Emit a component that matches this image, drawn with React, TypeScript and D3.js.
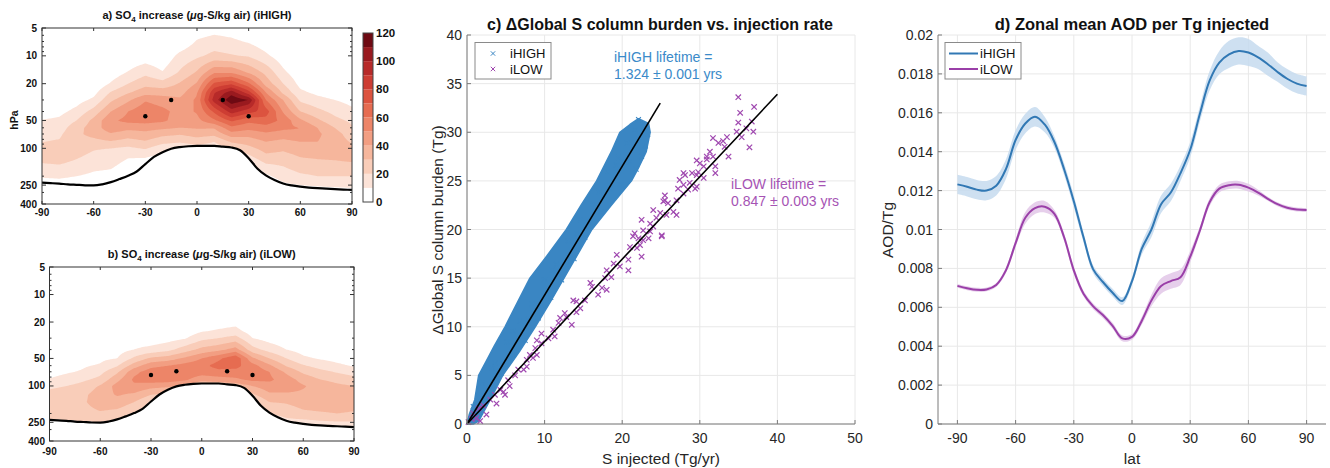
import React, { useMemo } from "react";
import * as d3 from "d3";

const FONT = "'Liberation Sans', Arial, Helvetica, sans-serif";

// ---------- Panels a / b : SO4 increase (lat x pressure) ----------
const gridLats = [-90, -80, -70, -60, -50, -40, -30, -20, -10, 0, 10, 20, 30, 40, 50, 60, 70, 80, 90];
const gridPres = [5, 7, 10, 15, 20, 25, 30, 40, 50, 60, 70, 85, 100, 125, 150, 200, 250, 300];
// one row per latitude, values at gridPres (ug-S/kg air)
const so4High = [
  [0, 0, 0, 0, 0, 1, 2, 5, 10.5, 14, 17, 19.8, 23, 24, 19, 11, 5, 2],
  [0, 0, 0, 0, 0, 1, 3, 7, 12, 15, 18, 21, 24, 25, 20, 12, 5, 2],
  [0, 0, 0, 0, 0, 3, 6, 13, 20, 26, 28, 27, 25, 21, 17, 10, 4, 2],
  [0, 0, 0, 0, 2, 7, 12, 24, 33, 35, 33, 27, 21, 17, 13, 8, 4, 2],
  [0, 0, 0, 4, 11, 21, 28, 40, 48, 46, 39, 29, 20, 15, 12, 7, 3, 1],
  [0, 0, 2, 10.5, 20, 29, 38, 50, 53, 43, 35, 26, 18, 10.5, 7, 3, 1, 0],
  [0, 0, 4, 17, 27, 36, 49, 57, 54, 44, 37, 29, 21, 10.5, 5, 2, 1, 0],
  [0, 0, 2, 10.5, 24, 36, 45, 53, 52, 42, 33, 23, 14, 6, 3, 1, 0, 0],
  [0, 2, 13, 21, 31, 36, 42, 46, 45, 40, 31, 21, 12, 4, 2, 0, 0, 0],
  [4, 11, 18, 31, 41, 49, 52, 51, 47, 41, 34, 25, 14, 5, 2, 0, 0, 0],
  [6, 14, 23, 48, 72, 89, 95, 72, 58, 41, 33, 20, 14, 5, 2, 0, 0, 0],
  [5, 12, 21, 48, 78, 106, 118, 95, 72, 57, 46, 31, 22, 8, 3, 0, 0, 0],
  [2, 9, 19, 38, 62, 85, 110, 84, 63, 53, 44, 34, 27, 17, 8, 2, 0, 0],
  [0, 4, 12, 27, 36, 50, 60, 75, 66, 56, 48, 40, 34, 27, 19, 8, 2, 0],
  [0, 0, 4, 12, 20, 28, 40, 49, 57, 52, 46, 37, 32, 26, 21, 14, 8, 4],
  [0, 0, 0, 3, 7, 12, 18, 30, 42, 50, 48, 40, 35, 30, 26, 18, 10, 5],
  [0, 0, 0, 1, 4, 8, 13, 23, 32, 40, 42, 40, 36, 31, 27, 20, 11, 5],
  [0, 0, 0, 0, 2, 5, 10, 17, 23, 30, 34, 35, 34, 32, 27, 20, 12, 5],
  [0, 0, 0, 0, 1, 4, 7, 12, 18, 21, 25, 29, 33, 34, 28, 20, 13, 5],
];
const so4Low = [
  [0, 0, 0, 0, 0, 0, 0, 1, 3, 5, 7, 10.5, 18, 23, 25, 24, 18, 10],
  [0, 0, 0, 0, 0, 0, 0, 2, 4, 6, 9, 13, 20, 25, 27, 26, 20, 12],
  [0, 0, 0, 0, 0, 0, 1, 3, 6, 9, 11, 18, 24, 28, 29, 27, 20, 12],
  [0, 0, 0, 0, 0, 0, 1, 4, 8, 11, 17, 23, 31, 35, 34, 29, 20, 12],
  [0, 0, 0, 0, 0, 1, 3, 6, 10, 19, 28, 37, 44, 41, 35, 27, 20, 12],
  [0, 0, 0, 0, 0, 2, 5, 10, 22, 35, 47, 52, 48, 38, 30, 22, 15, 8],
  [0, 0, 0, 0, 0, 1, 4, 13, 32, 47, 55, 56, 44, 30, 20, 12, 6, 2],
  [0, 0, 0, 0, 0, 2, 6, 17, 35, 50, 57, 56, 42, 27, 15, 8, 3, 1],
  [0, 0, 0, 0, 1, 4, 9, 25, 42, 54, 57, 52, 38, 22, 12, 5, 2, 0],
  [0, 0, 0, 2, 5, 9, 17, 33, 50, 57, 55, 44, 28, 12, 6, 2, 0, 0],
  [0, 0, 0, 3, 6, 11, 20, 37, 58, 64, 57, 46, 30, 15, 7, 2, 0, 0],
  [0, 0, 0, 3, 7, 13, 24, 44, 68, 63, 57, 48, 33, 18, 9, 3, 0, 0],
  [0, 0, 0, 0, 2, 5, 10, 24, 42, 54, 57, 53, 40, 28, 18, 8, 2, 0],
  [0, 0, 0, 0, 0, 2, 6, 16, 30, 42, 50, 52, 46, 38, 30, 20, 10, 3],
  [0, 0, 0, 0, 0, 1, 3, 10, 20, 29, 38, 45, 46, 38, 31, 24, 16, 8],
  [0, 0, 0, 0, 0, 0, 1, 6, 12, 21, 28, 36, 41, 38, 34, 28, 16, 8],
  [0, 0, 0, 0, 0, 0, 1, 4, 9, 16, 23, 30, 36, 37, 35, 29, 18, 9],
  [0, 0, 0, 0, 0, 0, 0, 3, 7, 12, 19, 27, 32, 36, 35, 30, 19, 10],
  [0, 0, 0, 0, 0, 0, 0, 2, 5, 9, 15, 24, 30, 35, 34, 29, 19, 11],
];
const tropLats = [-90, -85, -80, -75, -70, -65, -60, -55, -50, -45, -40, -35, -30, -25, -20, -15, -10, -5, 0, 5, 10, 15, 20, 25, 30, 35, 40, 45, 50, 55, 60, 65, 70, 75, 80, 85, 90];
const tropPres = [235, 238, 241, 245, 248, 251, 252, 245, 232, 215, 198, 178, 148, 124, 110, 101, 97, 95, 94, 94, 94, 96, 98, 105, 128, 165, 196, 220, 240, 252, 260, 266, 270, 273, 276, 279, 282];
const injHighDots = [[-30, 45], [-15, 30], [15, 30], [30, 45]];
const injLowDots = [[-30, 76], [-15, 69], [15, 69], [30, 76]];
const contourLevels = [10, 20, 30, 40, 50, 60, 70, 80, 90, 100, 110];
const colorbarTicks = [0, 20, 40, 60, 80, 100, 120];
const bandColors = ["#FFFFFF", "#FCE3D8", "#F9CDB9", "#F6B69C", "#F29E82", "#ED8568", "#E66C51", "#DC533F", "#CD3D33", "#B72A29", "#991A1F", "#6E0A13"];
const latTicks = [-90, -60, -30, 0, 30, 60, 90];
const presTicks = [5, 10, 20, 50, 100, 250, 400];
const presMinor = [6, 7, 8, 9, 30, 40, 60, 70, 80, 90, 200, 300];

// ---------- Panel c ----------
const xTicksC = [0, 10, 20, 30, 40, 50];
const yTicksC = [0, 5, 10, 15, 20, 25, 30, 35, 40];
const highFit = [[0, 0], [24.9, 33.0]];
const lowFit = [[0, 0], [40.0, 33.9]];
const highCloudUpper = [[0, 0], [0.3, 1.0], [1.0, 2.5], [1.5, 5.0], [2.5, 6.5], [3.5, 8.0], [4.9, 10.0], [6.5, 12.5], [8.1, 15.0], [10.5, 17.5], [12.8, 20.0], [14.7, 22.5], [16.7, 25.0], [18.6, 28.0], [19.7, 30.0], [21.0, 30.8], [22.1, 31.4]];
const highCloudLower = [[23.4, 30.9], [23.6, 30.0], [23.1, 28.0], [22.2, 26.5], [21.2, 25.0], [18.6, 22.5], [16.1, 20.0], [14.3, 17.5], [12.5, 15.0], [10.7, 12.5], [8.8, 10.0], [6.8, 7.5], [4.6, 5.0], [3.0, 2.5], [1.5, 0.3], [0.8, 0]];
const highPoints = [[22.1, 31.3], [21.6, 30.2], [22.8, 30.5], [23.3, 29.8], [23.0, 28.6], [22.5, 27.5], [21.8, 26.2], [20.6, 28.9], [19.5, 27.4], [19.8, 24.6], [18.2, 25.9], [17.3, 21.8], [16.2, 22.6], [15.2, 19.2], [14.6, 21.0], [13.8, 17.0], [13.0, 18.8], [12.2, 14.8], [11.5, 16.4], [10.8, 13.0], [10.0, 14.8], [9.2, 10.9], [8.4, 12.3], [7.5, 8.6], [6.8, 10.6], [6.0, 7.1], [5.2, 8.4], [4.4, 5.2], [3.6, 6.3], [2.8, 3.0], [2.0, 4.2], [1.4, 1.3], [0.8, 1.8], [0.4, 0.3], [1.8, 2.7], [3.2, 5.8], [4.8, 6.0], [5.9, 9.6], [7.9, 10.8], [9.6, 12.2], [11.0, 15.8], [12.8, 16.3], [14.2, 19.6], [15.8, 20.7], [17.0, 23.9], [18.4, 24.2], [19.2, 26.6], [20.9, 27.0]];
const lowPoints = [[34.96, 33.6], [35.2, 32.0], [37.0, 32.6], [34.96, 31.0], [36.7, 31.1], [34.75, 30.06], [36.9, 30.06], [36.4, 28.45], [36.0, 30.4], [35.4, 29.5], [33.5, 29.5], [33.2, 28.5], [31.7, 29.4], [32.4, 28.9], [33.0, 29.1], [33.7, 27.5], [31.7, 27.5], [30.9, 27.5], [31.3, 28.0], [30.9, 27.2], [32.0, 26.5], [32.0, 25.8], [30.5, 26.5], [30.0, 26.8], [29.6, 27.1], [29.8, 25.9], [29.0, 25.8], [29.6, 25.6], [28.1, 25.6], [30.5, 25.3], [28.7, 24.8], [27.9, 25.8], [27.4, 25.1], [27.9, 24.6], [29.4, 24.2], [28.5, 24.1], [29.6, 24.4], [27.9, 23.7], [27.2, 24.2], [25.5, 23.5], [25.5, 23.0], [25.9, 22.7], [27.0, 23.0], [26.6, 21.8], [27.0, 21.5], [24.9, 21.7], [25.7, 21.5], [25.3, 22.9], [24.0, 22.0], [24.4, 21.2], [24.0, 20.3], [22.5, 21.0], [23.6, 20.6], [21.6, 19.6], [22.7, 19.9], [22.1, 19.1], [21.0, 18.2], [21.4, 19.3], [23.4, 19.1], [25.1, 19.4], [23.6, 19.8], [25.1, 19.3], [22.7, 18.9], [22.3, 18.4], [21.9, 18.1], [22.5, 17.2], [20.8, 16.9], [20.8, 15.8], [19.7, 16.2], [19.3, 17.4], [18.9, 16.5], [18.0, 15.8], [17.8, 15.0], [18.6, 15.1], [17.4, 14.0], [18.0, 13.8], [15.9, 14.5], [16.1, 14.1], [16.9, 13.3], [15.2, 12.7], [14.1, 12.6], [14.6, 11.9], [14.1, 11.5], [13.7, 12.7], [12.8, 11.0], [12.6, 11.4], [12.0, 10.9], [11.8, 10.4], [13.5, 10.2], [11.1, 9.7], [11.3, 9.0], [10.5, 8.8], [9.6, 9.3], [9.0, 8.6], [9.6, 8.3], [8.8, 7.8], [9.0, 7.1], [8.1, 7.1], [7.7, 6.6], [8.5, 6.8], [7.3, 5.6], [7.7, 5.9], [6.6, 5.6], [6.2, 5.0], [5.3, 4.5], [5.5, 3.9], [4.9, 3.0], [4.3, 3.5], [3.6, 3.0], [3.0, 2.5], [2.1, 1.9], [1.5, 1.6], [0.8, 1.1], [1.2, 0.6], [0.6, 0.5], [1.7, 0.3], [0.2, 0.2], [2.5, 0.97], [3.8, 2.1], [4.7, 3.3]];

// ---------- Panel d ----------
const latD = [-90, -85, -80, -75, -70, -65, -60, -55, -50, -45, -40, -35, -30, -25, -20, -15, -10, -5, 0, 5, 10, 15, 20, 25, 30, 35, 40, 45, 50, 55, 60, 65, 70, 75, 80, 85, 90];
const aodHigh = [0.01232, 0.0122, 0.01205, 0.012, 0.01225, 0.0131, 0.0146, 0.01545, 0.0158, 0.0154, 0.0145, 0.0131, 0.01145, 0.0096, 0.00795, 0.0073, 0.00675, 0.00632, 0.00735, 0.009, 0.01, 0.0113, 0.0119, 0.0129, 0.0141, 0.01595, 0.01765, 0.01858, 0.019, 0.01918, 0.0191, 0.01885, 0.0185, 0.0181, 0.01775, 0.0175, 0.01738];
const aodHighErr = [0.0005, 0.0005, 0.0005, 0.0005, 0.0005, 0.0005, 0.0005, 0.0005, 0.0005, 0.0004, 0.0003, 0.0003, 0.0003, 0.00025, 0.0002, 0.0002, 0.0002, 0.0002, 0.0002, 0.0003, 0.0004, 0.00045, 0.00045, 0.0004, 0.0004, 0.0004, 0.0005, 0.0006, 0.0007, 0.0007, 0.0007, 0.0006, 0.0006, 0.0005, 0.0005, 0.0005, 0.0005];
const aodLow = [0.0071, 0.00698, 0.0069, 0.00692, 0.00715, 0.0079, 0.0093, 0.0106, 0.0111, 0.01117, 0.0108, 0.0096, 0.0079, 0.0067, 0.00605, 0.0056, 0.00505, 0.0044, 0.00448, 0.0053, 0.00635, 0.0071, 0.00735, 0.00755, 0.0086, 0.00995, 0.0114, 0.0121, 0.01228, 0.0123, 0.01215, 0.0119, 0.01158, 0.0113, 0.01112, 0.01103, 0.011];
const aodLowErr = [0.0001, 0.0001, 0.0001, 0.0001, 0.0001, 0.00015, 0.0002, 0.0003, 0.0003, 0.0003, 0.0002, 0.0002, 0.0002, 0.00015, 0.00015, 0.00015, 0.00015, 0.00015, 0.00015, 0.0002, 0.0003, 0.0004, 0.0004, 0.0004, 0.0003, 0.0002, 0.0002, 0.0002, 0.0002, 0.0002, 0.0002, 0.00015, 0.0001, 0.0001, 0.0001, 0.0001, 0.0001];
const xTicksD = [-90, -60, -30, 0, 30, 60, 90];
const yTicksD = [0, 0.002, 0.004, 0.006, 0.008, 0.01, 0.012, 0.014, 0.016, 0.018, 0.02];

const BLUE = "#3A86C3";
const PURPLE = "#A049B0";
const LINE_BLUE = "#3178B4";
const LINE_PURPLE = "#9A3FA8";

function buildContours(data: number[][], x0: number, x1: number, y0: number, y1: number) {
  const nx = 240, ny = 180;
  const lg = gridPres.map((p) => Math.log10(p));
  const lmin = Math.log10(5), lmax = Math.log10(400);
  const colAt = (col: number[], lp: number) => {
    const n = lg.length;
    if (lp <= lg[0]) return col[0];
    if (lp >= lg[n - 1]) return col[n - 1];
    let k = 0;
    while (lp > lg[k + 1]) k++;
    const t = (lp - lg[k]) / (lg[k + 1] - lg[k]);
    return col[k] * (1 - t) + col[k + 1] * t;
  };
  const tropAt = (lat: number) => {
    let i = Math.floor((lat - tropLats[0]) / 5);
    i = Math.max(0, Math.min(tropLats.length - 2, i));
    const t = (lat - tropLats[i]) / (tropLats[i + 1] - tropLats[i]);
    return Math.log10(tropPres[i]) * (1 - t) + Math.log10(tropPres[i + 1]) * t;
  };
  const vals: number[] = new Array(nx * ny);
  for (let j = 0; j < ny; j++) {
    const lp = lmin + ((j + 0.5) / ny) * (lmax - lmin);
    for (let i = 0; i < nx; i++) {
      const lat = -90 + ((i + 0.5) / nx) * 180;
      let a = Math.floor((lat + 90) / 10);
      if (a > gridLats.length - 2) a = gridLats.length - 2;
      const t = (lat - gridLats[a]) / 10;
      let v = colAt(data[a], lp) * (1 - t) + colAt(data[a + 1], lp) * t;
      if (lp > tropAt(lat) - 0.004) v = -1;
      vals[j * nx + i] = v;
    }
  }
  const cs = d3.contours().size([nx, ny]).thresholds(contourLevels)(vals);
  const proj = d3.geoTransform({
    point: function (x: number, y: number) {
      (this as any).stream.point(x0 + (x / nx) * (x1 - x0), y0 + (y / ny) * (y1 - y0));
    },
  });
  const path = d3.geoPath(proj as any);
  return cs.map((c, k) => ({ d: path(c as any) || "", fill: bandColors[k + 1] }));
}

function ContourPanel(props: {
  id: string; x0: number; x1: number; y0: number; y1: number; data: number[][]; dots: number[][];
  tag: string; letter: string; titleY: number; ytickX: number; xtickY: number; hpa?: boolean;
}) {
  const { id, x0, x1, y0, y1, data, dots, tag, letter, titleY, ytickX, xtickY, hpa } = props;
  const xs = d3.scaleLinear().domain([-90, 90]).range([x0, x1]);
  const ys = d3.scaleLog().domain([5, 400]).range([y0, y1]);
  const bands = useMemo(() => buildContours(data, x0, x1, y0, y1), [data, x0, x1, y0, y1]);
  const tropLine = d3.line<number>().x((_, i) => xs(tropLats[i])).y((_, i) => ys(tropPres[i])).curve(d3.curveMonotoneX)(tropLats.map((_, i) => i)) || "";
  const cx = (x0 + x1) / 2;
  return (
    <g>
      <defs>
        <clipPath id={id}><rect x={x0} y={y0} width={x1 - x0} height={y1 - y0} /></clipPath>
      </defs>
      <g clipPath={`url(#${id})`}>
        {bands.map((b, i) => <path key={i} d={b.d} fill={b.fill} stroke="none" />)}
        <path d={tropLine} fill="none" stroke="#000" strokeWidth={2.2} />
      </g>
      {dots.map((d, i) => <circle key={i} cx={xs(d[0])} cy={ys(d[1])} r={2.2} fill="#000" />)}
      <rect x={x0} y={y0} width={x1 - x0} height={y1 - y0} fill="none" stroke="#333" strokeWidth={1} />
      {latTicks.map((t) => (
        <g key={t}>
          <line x1={xs(t)} x2={xs(t)} y1={y1} y2={y1 - 3} stroke="#333" />
          <line x1={xs(t)} x2={xs(t)} y1={y0} y2={y0 + 3} stroke="#333" />
          <text x={xs(t)} y={xtickY} fontSize={10} fontWeight="bold" textAnchor="middle" fill="#111">{t}</text>
        </g>
      ))}
      {presTicks.map((p) => (
        <g key={p}>
          <line x1={x0} x2={x0 + 4} y1={ys(p)} y2={ys(p)} stroke="#333" />
          <line x1={x1} x2={x1 - 4} y1={ys(p)} y2={ys(p)} stroke="#333" />
          <text x={ytickX} y={ys(p) + 3.5} fontSize={10} fontWeight="bold" textAnchor="end" fill="#111">{p}</text>
        </g>
      ))}
      {presMinor.map((p) => (
        <g key={"m" + p}>
          <line x1={x0} x2={x0 + 2} y1={ys(p)} y2={ys(p)} stroke="#333" />
          <line x1={x1} x2={x1 - 2} y1={ys(p)} y2={ys(p)} stroke="#333" />
        </g>
      ))}
      <text x={cx} y={titleY} fontSize={11} fontWeight="bold" textAnchor="middle" fill="#111">
        {letter}) SO<tspan fontSize={8} dy={3}>4</tspan><tspan dy={-3}> increase (</tspan><tspan fontStyle="italic">μ</tspan>g-S/kg air) ({tag})
      </text>
      {hpa && (
        <text transform={`translate(18,${(y0 + y1) / 2 + 4}) rotate(-90)`} fontSize={10.5} fontWeight="bold" textAnchor="middle" fill="#111">hPa</text>
      )}
    </g>
  );
}

function Colorbar() {
  const cy = d3.scaleLinear().domain([0, 120]).range([202, 33]);
  return (
    <g>
      {bandColors.map((c, k) => (
        <rect key={k} x={363} y={cy(10 * (k + 1))} width={10} height={cy(10 * k) - cy(10 * (k + 1))} fill={c} />
      ))}
      <rect x={363} y={33} width={10} height={169} fill="none" stroke="#444" strokeWidth={1} />
      {colorbarTicks.map((t) => (
        <text key={t} x={376} y={cy(t) + 4} fontSize={11.5} fontWeight="bold" fill="#111">{t}</text>
      ))}
    </g>
  );
}

const cross = (s: number) => `M${-s},${-s}L${s},${s}M${-s},${s}L${s},${-s}`;

function PanelC() {
  const xs = d3.scaleLinear().domain([0, 50]).range([467, 855]);
  const ys = d3.scaleLinear().domain([0, 40]).range([424, 35]);
  const poly = [...highCloudUpper, ...highCloudLower];
  const polyD = "M" + poly.map((p) => `${xs(p[0])},${ys(p[1])}`).join("L") + "Z";
  const fitLine = (f: number[][]) => d3.line<number[]>().x((d) => xs(d[0])).y((d) => ys(d[1]))(f) || "";
  return (
    <g fontFamily={FONT}>
      {xTicksC.map((t) => <line key={"gx" + t} x1={xs(t)} x2={xs(t)} y1={35} y2={424} stroke="#E8E8E8" />)}
      {yTicksC.map((t) => <line key={"gy" + t} x1={467} x2={855} y1={ys(t)} y2={ys(t)} stroke="#E8E8E8" />)}
      <path d={polyD} fill={BLUE} stroke={BLUE} strokeWidth={1.5} strokeLinejoin="round" />
      {highPoints.map((p, i) => (
        <path key={"h" + i} d={cross(2.4)} transform={`translate(${xs(p[0])},${ys(p[1])})`} stroke={BLUE} strokeWidth={1.1} />
      ))}
      {lowPoints.map((p, i) => (
        <path key={"l" + i} d={cross(2.7)} transform={`translate(${xs(p[0])},${ys(p[1])})`} stroke={PURPLE} strokeWidth={1.2} />
      ))}
      <path d={fitLine(highFit)} stroke="#000" strokeWidth={1.6} fill="none" />
      <path d={fitLine(lowFit)} stroke="#000" strokeWidth={1.6} fill="none" />
      <line x1={467} x2={855} y1={424} y2={424} stroke="#7a7a7a" />
      <line x1={467} x2={467} y1={35} y2={424} stroke="#7a7a7a" />
      {xTicksC.map((t) => (
        <g key={"tx" + t}>
          <line x1={xs(t)} x2={xs(t)} y1={424} y2={420} stroke="#7a7a7a" />
          <text x={xs(t)} y={443} fontSize={14} textAnchor="middle" fill="#262626">{t}</text>
        </g>
      ))}
      {yTicksC.map((t) => (
        <g key={"ty" + t}>
          <line x1={467} x2={471} y1={ys(t)} y2={ys(t)} stroke="#7a7a7a" />
          <text x={462} y={ys(t) + 5} fontSize={14} textAnchor="end" fill="#262626">{t}</text>
        </g>
      ))}
      <text x={661} y={464} fontSize={15.5} textAnchor="middle" fill="#262626">S injected (Tg/yr)</text>
      <text transform={`translate(443,230) rotate(-90)`} fontSize={15.5} textAnchor="middle" fill="#262626">ΔGlobal S column burden (Tg)</text>
      <text x={660} y={30} fontSize={16} fontWeight="bold" textAnchor="middle" fill="#111">c) ΔGlobal S column burden vs. injection rate</text>
      <text x={614} y={62} fontSize={14} fill="#3A8AC9">iHIGH lifetime =</text>
      <text x={614} y={79} fontSize={14} fill="#3A8AC9">1.324 ± 0.001 yrs</text>
      <text x={731} y={189} fontSize={14} fill="#A653B4">iLOW lifetime =</text>
      <text x={731} y={206} fontSize={14} fill="#A653B4">0.847 ± 0.003 yrs</text>
      <rect x={475} y={42.5} width={76} height={36.5} fill="#fff" stroke="#8a8a8a" />
      <path d={cross(2.2)} transform="translate(493,53.5)" stroke={BLUE} strokeWidth={1} />
      <path d={cross(2.2)} transform="translate(493,69)" stroke={PURPLE} strokeWidth={1} />
      <text x={510} y={58} fontSize={13} fill="#111">iHIGH</text>
      <text x={510} y={73.5} fontSize={13} fill="#111">iLOW</text>
    </g>
  );
}

function PanelD() {
  const xs = d3.scaleLinear().domain([-100, 100]).range([938, 1326]);
  const ys = d3.scaleLinear().domain([0, 0.02]).range([424, 35]);
  const idx = latD.map((_, i) => i);
  const curve = d3.curveCatmullRom.alpha(0.5);
  const area = (v: number[], e: number[]) =>
    d3.area<number>().x((i) => xs(latD[i])).y0((i) => ys(v[i] - e[i])).y1((i) => ys(v[i] + e[i])).curve(curve)(idx) || "";
  const line = (v: number[]) => d3.line<number>().x((i) => xs(latD[i])).y((i) => ys(v[i])).curve(curve)(idx) || "";
  const fmt = (v: number) => (v === 0 ? "0" : String(+v.toFixed(3)));
  return (
    <g fontFamily={FONT}>
      {xTicksD.map((t) => <line key={"gx" + t} x1={xs(t)} x2={xs(t)} y1={35} y2={424} stroke="#E8E8E8" />)}
      {yTicksD.map((t) => <line key={"gy" + t} x1={938} x2={1326} y1={ys(t)} y2={ys(t)} stroke="#E8E8E8" />)}
      <path d={area(aodHigh, aodHighErr)} fill="#C5DAEE" fillOpacity={0.85} />
      <path d={area(aodLow, aodLowErr)} fill="#E2C7E7" fillOpacity={0.85} />
      <path d={line(aodHigh)} fill="none" stroke={LINE_BLUE} strokeWidth={2} />
      <path d={line(aodLow)} fill="none" stroke={LINE_PURPLE} strokeWidth={2} />
      <line x1={938} x2={1326} y1={424} y2={424} stroke="#7a7a7a" />
      <line x1={938} x2={938} y1={35} y2={424} stroke="#7a7a7a" />
      {xTicksD.map((t) => (
        <g key={"tx" + t}>
          <line x1={xs(t)} x2={xs(t)} y1={424} y2={420} stroke="#7a7a7a" />
          <text x={xs(t)} y={443} fontSize={14} textAnchor="middle" fill="#262626">{t}</text>
        </g>
      ))}
      {yTicksD.map((t) => (
        <g key={"ty" + t}>
          <line x1={938} x2={942} y1={ys(t)} y2={ys(t)} stroke="#7a7a7a" />
          <text x={933} y={ys(t) + 5} fontSize={14} textAnchor="end" fill="#262626">{fmt(t)}</text>
        </g>
      ))}
      <text x={1132} y={464} fontSize={15.5} textAnchor="middle" fill="#262626">lat</text>
      <text transform={`translate(893,230) rotate(-90)`} fontSize={15.5} textAnchor="middle" fill="#262626">AOD/Tg</text>
      <text x={1132} y={30} fontSize={16.5} fontWeight="bold" textAnchor="middle" fill="#111">d) Zonal mean AOD per Tg injected</text>
      <rect x={945} y={42.5} width={76} height={36.5} fill="#fff" stroke="#8a8a8a" />
      <line x1={949} x2={978} y1={53.5} y2={53.5} stroke={LINE_BLUE} strokeWidth={2} />
      <line x1={949} x2={978} y1={69} y2={69} stroke={LINE_PURPLE} strokeWidth={2} />
      <text x={980} y={58} fontSize={13} fill="#111">iHIGH</text>
      <text x={980} y={73.5} fontSize={13} fill="#111">iLOW</text>
    </g>
  );
}

export default function App() {
  return (
    <svg width={1330} height={468} style={{ position: "fixed", left: 0, top: 0, display: "block" }} fontFamily={FONT}>
      <rect x={0} y={0} width={1330} height={468} fill="#fff" />
      <ContourPanel id="clipA" x0={42} x1={352} y0={28} y1={204} data={so4High} dots={injHighDots} tag="iHIGH" letter="a" titleY={19} ytickX={37} xtickY={216} hpa />
      <Colorbar />
      <ContourPanel id="clipB" x0={49.5} x1={354} y0={267} y1={441} data={so4Low} dots={injLowDots} tag="iLOW" letter="b" titleY={258} ytickX={45} xtickY={455} />
      <PanelC />
      <PanelD />
    </svg>
  );
}
